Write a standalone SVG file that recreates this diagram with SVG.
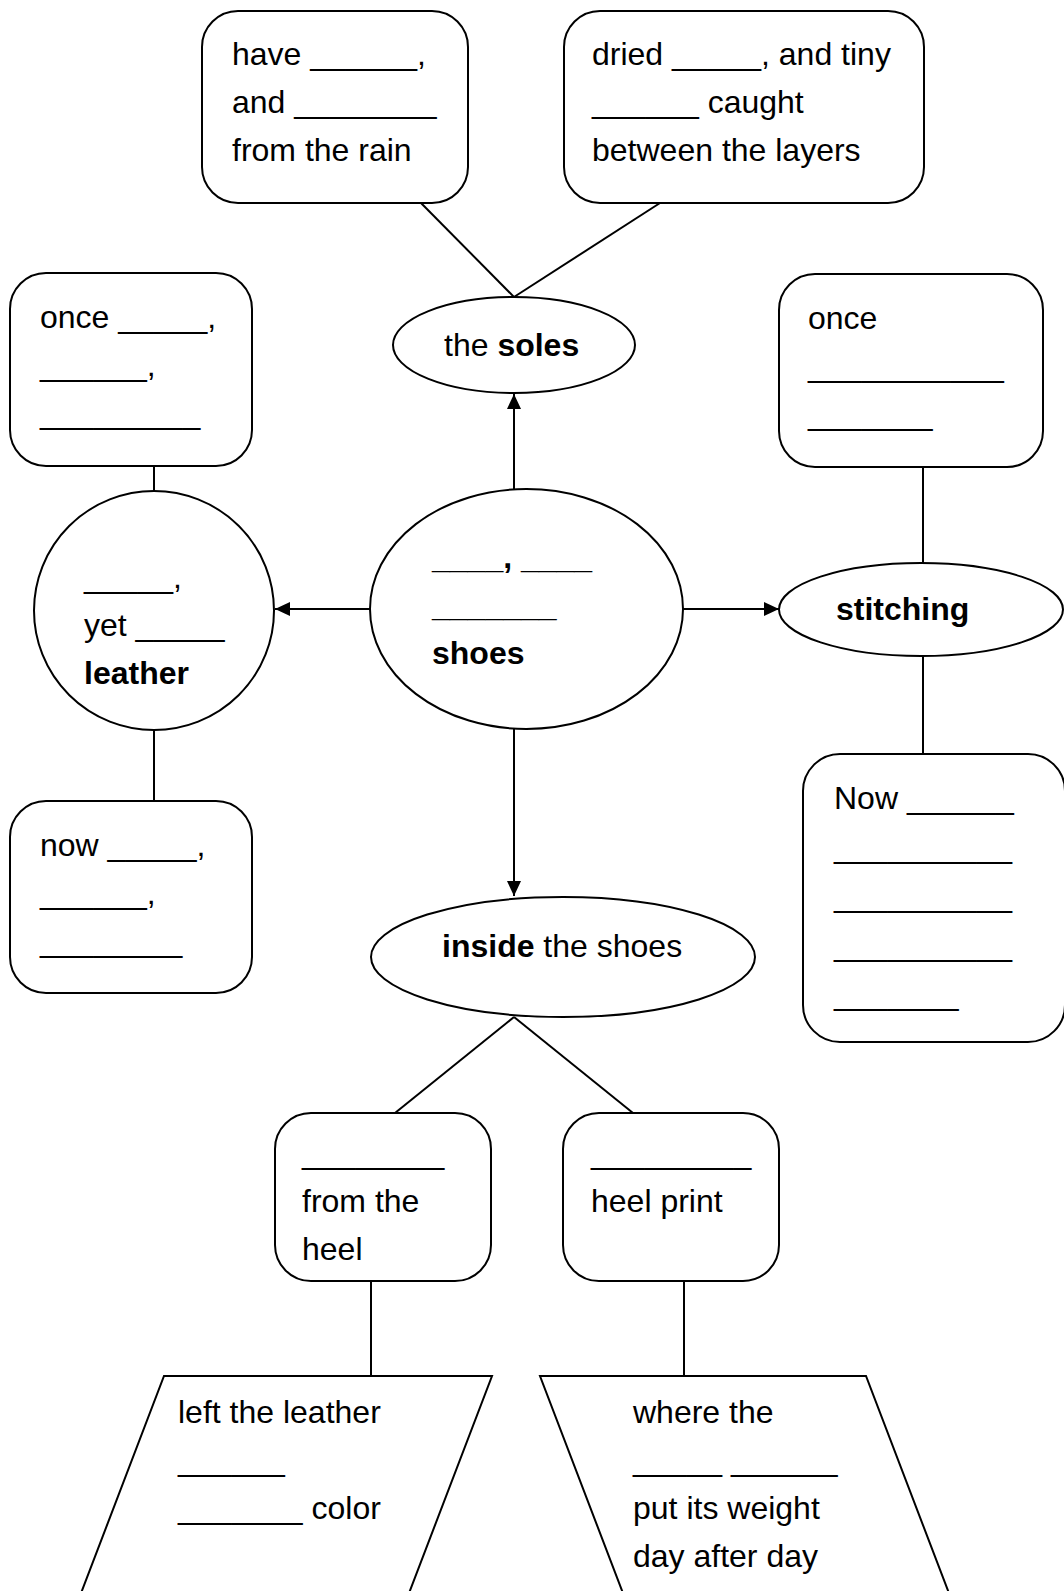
<svg xmlns="http://www.w3.org/2000/svg" width="1064" height="1591" viewBox="0 0 1064 1591">
  <style>
    .shape { fill: #ffffff; stroke: #000000; stroke-width: 2; }
    .link { fill: none; stroke: #000000; stroke-width: 2; }
    text { font-family: "Liberation Sans", Arial, sans-serif; font-size: 32px; fill: #000000; }
    .b { font-weight: bold; }
  </style>
  <defs>
    <marker id="arrow" markerUnits="userSpaceOnUse" markerWidth="15" markerHeight="14" viewBox="0 0 15 14" refX="15" refY="7" orient="auto">
      <path d="M0,0 L15,7 L0,14 z" fill="#000000"/>
    </marker>
  </defs>
  <rect width="1064" height="1591" fill="#ffffff"/>

  <!-- connectors -->
  <g id="connectors">
    <line class="link" x1="421" y1="203" x2="514" y2="297"/>
    <line class="link" x1="660" y1="203" x2="514" y2="297"/>
    <line class="link" x1="514" y1="489" x2="514" y2="394" marker-end="url(#arrow)"/>
    <line class="link" x1="370" y1="609" x2="275" y2="609" marker-end="url(#arrow)"/>
    <line class="link" x1="683" y1="609" x2="779" y2="609" marker-end="url(#arrow)"/>
    <line class="link" x1="514" y1="729" x2="514" y2="896" marker-end="url(#arrow)"/>
    <line class="link" x1="154" y1="466" x2="154" y2="491"/>
    <line class="link" x1="154" y1="730" x2="154" y2="801"/>
    <line class="link" x1="923" y1="467" x2="923" y2="563"/>
    <line class="link" x1="923" y1="656" x2="923" y2="754"/>
    <line class="link" x1="514" y1="1017" x2="395" y2="1113"/>
    <line class="link" x1="514" y1="1017" x2="633" y2="1113"/>
    <line class="link" x1="371" y1="1281" x2="371" y2="1376"/>
    <line class="link" x1="684" y1="1281" x2="684" y2="1376"/>
  </g>

  <!-- sole details, left -->
  <g id="soles-rain">
    <rect class="shape" x="202" y="11" width="266" height="192" rx="36" ry="36"/>
    <text x="232" y="65">have ______,</text>
    <text x="232" y="113">and ________</text>
    <text x="232" y="161">from the rain</text>
  </g>

  <!-- sole details, right -->
  <g id="soles-layers">
    <rect class="shape" x="564" y="11" width="360" height="192" rx="36" ry="36"/>
    <text x="592" y="65">dried _____, and tiny</text>
    <text x="592" y="113">______ caught</text>
    <text x="592" y="161">between the layers</text>
  </g>

  <!-- the soles -->
  <g id="soles">
    <ellipse class="shape" cx="514" cy="345" rx="121" ry="48"/>
    <text x="444" y="356">the <tspan class="b">soles</tspan></text>
  </g>

  <!-- leather: before -->
  <g id="leather-once">
    <rect class="shape" x="10" y="273" width="242" height="193" rx="36" ry="36"/>
    <text x="40" y="328">once _____,</text>
    <text x="40" y="376">______,</text>
    <text x="40" y="424">_________</text>
  </g>

  <!-- leather -->
  <g id="leather">
    <ellipse class="shape" cx="154" cy="610.5" rx="120" ry="119.5"/>
    <text x="84" y="588">_____,</text>
    <text x="84" y="636">yet _____</text>
    <text class="b" x="84" y="684">leather</text>
  </g>

  <!-- leather: now -->
  <g id="leather-now">
    <rect class="shape" x="10" y="801" width="242" height="192" rx="36" ry="36"/>
    <text x="40" y="856">now _____,</text>
    <text x="40" y="904">______,</text>
    <text x="40" y="952">________</text>
  </g>

  <!-- central topic -->
  <g id="shoes">
    <ellipse class="shape" cx="526.5" cy="609" rx="156.5" ry="120"/>
    <text class="b" x="432" y="568">____, ____</text>
    <text class="b" x="432" y="616">_______</text>
    <text class="b" x="432" y="664">shoes</text>
  </g>

  <!-- stitching: before -->
  <g id="stitching-once">
    <rect class="shape" x="779" y="274" width="264" height="193" rx="36" ry="36"/>
    <text x="808" y="329">once</text>
    <text x="808" y="377">___________</text>
    <text x="808" y="425">_______</text>
  </g>

  <!-- stitching -->
  <g id="stitching">
    <ellipse class="shape" cx="921" cy="609.5" rx="142" ry="46.5"/>
    <text class="b" x="836" y="620">stitching</text>
  </g>

  <!-- stitching: now -->
  <g id="stitching-now">
    <rect class="shape" x="803" y="754" width="262" height="288" rx="37" ry="37"/>
    <text x="834" y="809">Now ______</text>
    <text x="834" y="858">__________</text>
    <text x="834" y="907">__________</text>
    <text x="834" y="956">__________</text>
    <text x="834" y="1005">_______</text>
  </g>

  <!-- inside the shoes -->
  <g id="inside">
    <ellipse class="shape" cx="563" cy="957" rx="192" ry="60"/>
    <text x="442" y="957"><tspan class="b">inside</tspan> the shoes</text>
  </g>

  <!-- inside: heel -->
  <g id="inside-heel">
    <rect class="shape" x="275" y="1113" width="216" height="168" rx="36" ry="36"/>
    <text x="302" y="1164">________</text>
    <text x="302" y="1212">from the</text>
    <text x="302" y="1260">heel</text>
  </g>

  <!-- inside: heel print -->
  <g id="inside-print">
    <rect class="shape" x="563" y="1113" width="216" height="168" rx="36" ry="36"/>
    <text x="591" y="1164">_________</text>
    <text x="591" y="1212">heel print</text>
  </g>

  <!-- heel detail -->
  <g id="heel-color">
    <polygon class="shape" points="164,1376 492,1376 398,1622 70,1622"/>
    <text x="178" y="1423">left the leather</text>
    <text x="178" y="1471">______</text>
    <text x="178" y="1519">_______ color</text>
  </g>

  <!-- heel print detail -->
  <g id="print-weight">
    <polygon class="shape" points="540,1376 866,1376 960,1622 634,1622"/>
    <text x="633" y="1423">where the</text>
    <text x="633" y="1471">_____ ______</text>
    <text x="633" y="1519">put its weight</text>
    <text x="633" y="1567">day after day</text>
  </g>
</svg>
